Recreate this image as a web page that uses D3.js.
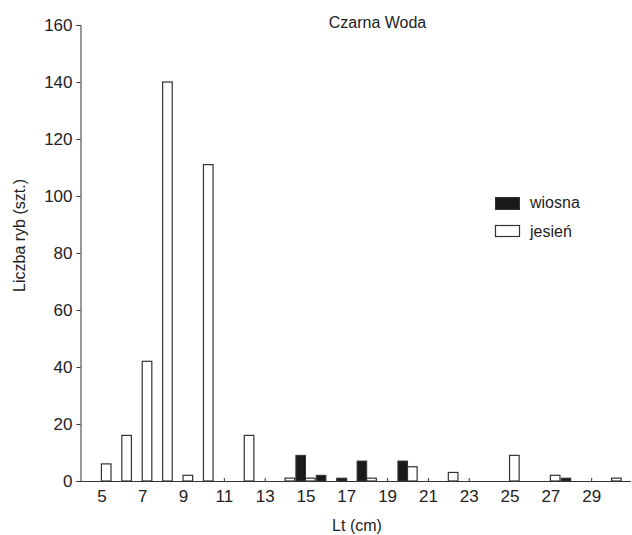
<!DOCTYPE html>
<html>
<head>
<meta charset="utf-8">
<script src="https://cdn.jsdelivr.net/npm/d3@7"></script>
<style>
  body { margin: 0; background: #fff; }
  text { font-family: "Liberation Sans", Arial, Helvetica, sans-serif; fill: #222; }
</style>
</head>
<body>
<div class="chart"></div>
<script>
// length classes (cm)
const classes = [5, 6, 7, 8, 9, 10, 11, 12, 13, 14, 15, 16, 17, 18, 19, 20, 21, 22, 23, 24, 25, 26, 27, 28, 29, 30]
// wiosna (spring) counts
const wiosna = [0, 0, 0, 0, 0, 0, 0, 0, 0, 0, 9, 2, 1, 7, 0, 7, 0, 0, 0, 0, 0, 0, 0, 1, 0, 0]
// jesień (autumn) counts
const jesien = [6, 16, 42, 140, 2, 111, 0, 16, 0, 1, 1, 0, 0, 1, 0, 5, 0, 3, 0, 0, 9, 0, 2, 0, 0, 1]
const yTicks = [0, 20, 40, 60, 80, 100, 120, 140, 160]
const xTicks = [5, 7, 9, 11, 13, 15, 17, 19, 21, 23, 25, 27, 29]

const width = 632
const height = 535

const svg = d3.select(".chart")
  .append("svg")
  .attr("width", width)
  .attr("height", height)

const x = d3.scaleLinear().domain([4, 31]).range([81, 632])
const y = d3.scaleLinear().domain([0, 160]).range([481, 25])
const barW = 9.6

// y axis
const yAxis = d3.axisLeft(y).tickValues(yTicks).tickSize(4).tickPadding(4)
const gy = svg.append("g")
  .attr("transform", "translate(80.5,0)")
  .call(yAxis)
gy.select(".domain").attr("stroke", "#333")
gy.selectAll(".tick line").attr("stroke", "#333")
gy.selectAll(".tick text").attr("font-size", 17).attr("fill", "#222")
  .style("font-family", "'Liberation Sans', Arial, sans-serif")

// x axis (ticks pointing up into the plot)
const xAxis = d3.axisBottom(x).tickValues(xTicks).tickSizeInner(-3).tickSizeOuter(0).tickPadding(9)
const gx = svg.append("g")
  .attr("transform", "translate(0,481)")
  .call(xAxis)
gx.select(".domain").attr("stroke", "#333").attr("d", "M80.5,0.5H631")
gx.selectAll(".tick line").attr("stroke", "#333")
gx.selectAll(".tick text").attr("font-size", 17).attr("fill", "#222")
  .style("font-family", "'Liberation Sans', Arial, sans-serif")

const rows = classes.map((c, i) => ({ c: c, w: wiosna[i], j: jesien[i] }))

// spring bars, left of class centre
svg.selectAll(".wiosna")
  .data(rows.filter(d => d.w > 0))
  .enter()
  .append("rect")
  .attr("class", "wiosna")
  .attr("x", d => x(d.c) - barW)
  .attr("y", d => y(d.w))
  .attr("width", barW)
  .attr("height", d => y(0) - y(d.w))
  .attr("fill", "#1a1a1a")
  .attr("stroke", "#333")
  .attr("stroke-width", 1)

// autumn bars, right of class centre
svg.selectAll(".jesien")
  .data(rows.filter(d => d.j > 0))
  .enter()
  .append("rect")
  .attr("class", "jesien")
  .attr("x", d => x(d.c))
  .attr("y", d => y(d.j))
  .attr("width", barW)
  .attr("height", d => y(0) - y(d.j))
  .attr("fill", "#fff")
  .attr("stroke", "#333")
  .attr("stroke-width", 1.2)

// title and axis labels
svg.append("text")
  .attr("x", 377.5).attr("y", 28)
  .attr("text-anchor", "middle")
  .attr("font-size", 16)
  .text("Czarna Woda")

svg.append("text")
  .attr("x", 357).attr("y", 531)
  .attr("text-anchor", "middle")
  .attr("font-size", 16)
  .text("Lt (cm)")

svg.append("text")
  .attr("transform", "translate(24.5,235.5) rotate(-90)")
  .attr("text-anchor", "middle")
  .attr("font-size", 16)
  .text("Liczba ryb (szt.)")

// legend
const legend = svg.append("g")
legend.append("rect")
  .attr("x", 495.5).attr("y", 197.5).attr("width", 24).attr("height", 12)
  .attr("fill", "#1a1a1a").attr("stroke", "#333")
legend.append("text")
  .attr("x", 530).attr("y", 208)
  .attr("font-size", 16)
  .text("wiosna")
legend.append("rect")
  .attr("x", 495.5).attr("y", 225.5).attr("width", 24).attr("height", 11)
  .attr("fill", "#fff").attr("stroke", "#333").attr("stroke-width", 1.2)
legend.append("text")
  .attr("x", 530).attr("y", 237)
  .attr("font-size", 16)
  .text("jesień")
</script>
</body>
</html>
